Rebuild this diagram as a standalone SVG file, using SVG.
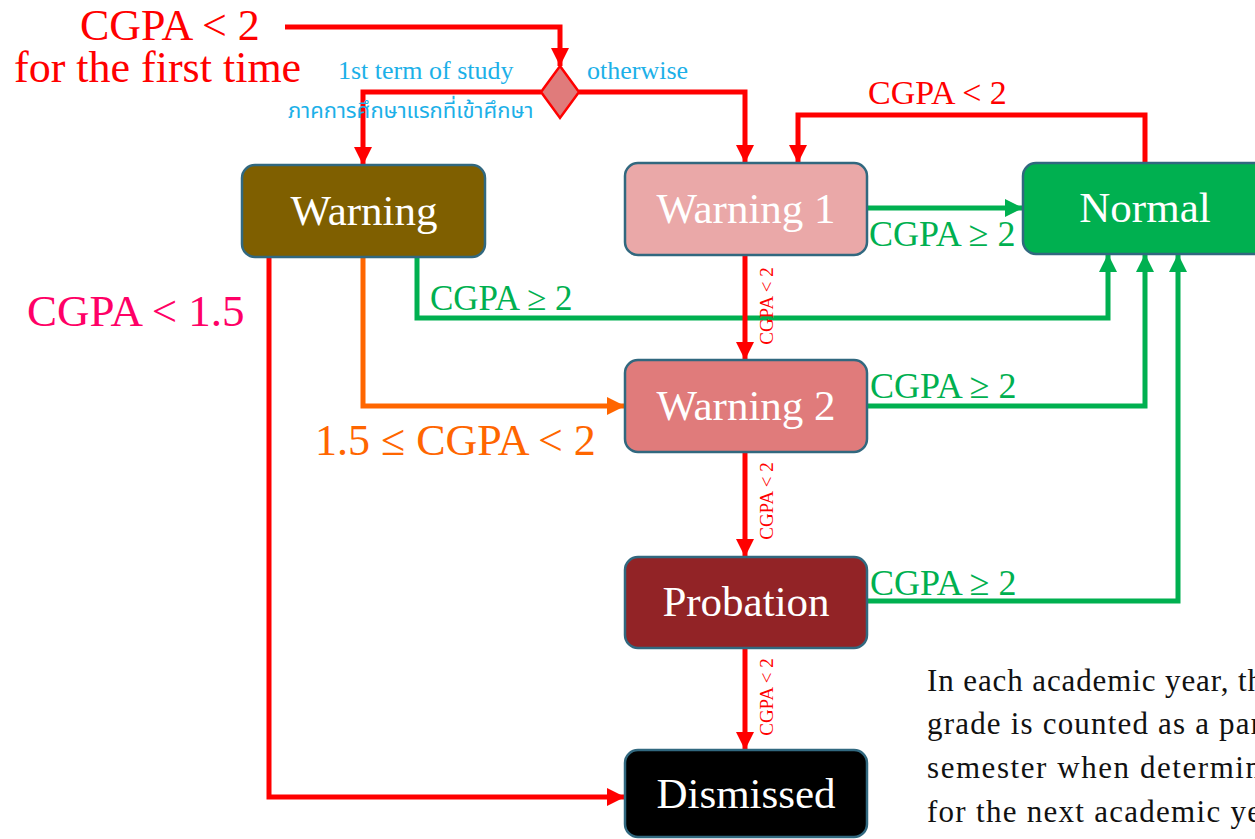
<svg xmlns="http://www.w3.org/2000/svg" width="1255" height="839" viewBox="0 0 1255 839">
<style>
.node{stroke:#31687f;stroke-width:2.5}
.nt{font-family:"Liberation Serif",serif;font-size:43px;fill:#ffffff;text-anchor:middle}
.ln{fill:none;stroke-width:5;stroke-linejoin:miter}
.r{stroke:#ff0000}
.g{stroke:#00b050}
.o{stroke:#ff6600}
.lbl{font-family:"Liberation Serif",serif}
.vl{font-family:"Liberation Serif",serif;font-size:19px;fill:#ff0000;text-anchor:middle}
</style>
<defs>
<marker id="ar" markerUnits="userSpaceOnUse" markerWidth="20" markerHeight="20" viewBox="0 0 20 20" refX="18" refY="10" orient="auto"><path d="M0,1 L18,10 L0,19 Z" fill="#ff0000"/></marker>
<marker id="ag" markerUnits="userSpaceOnUse" markerWidth="20" markerHeight="20" viewBox="0 0 20 20" refX="18" refY="10" orient="auto"><path d="M0,1 L18,10 L0,19 Z" fill="#00b050"/></marker>
<marker id="ao" markerUnits="userSpaceOnUse" markerWidth="20" markerHeight="20" viewBox="0 0 20 20" refX="18" refY="10" orient="auto"><path d="M0,1 L18,10 L0,19 Z" fill="#ff6600"/></marker>
</defs>

<g id="connectors">
<path class="ln r" d="M285,27 H560 V66" marker-end="url(#ar)"/>
<path class="ln r" d="M541,92 H363 V165" marker-end="url(#ar)"/>
<path class="ln r" d="M579,92 H745 V163" marker-end="url(#ar)"/>
<path class="ln r" d="M1145,163 V115 H798 V163" marker-end="url(#ar)"/>
<path class="ln g" d="M867,208 H1023" marker-end="url(#ag)"/>
<path class="ln r" d="M269,257 V797 H625" marker-end="url(#ar)"/>
<path class="ln o" d="M363,257 V406 H625" marker-end="url(#ao)"/>
<path class="ln g" d="M417,257 V318 H1108 V254" marker-end="url(#ag)"/>
<path class="ln r" d="M745,255 V360" marker-end="url(#ar)"/>
<path class="ln g" d="M867,406 H1145 V254" marker-end="url(#ag)"/>
<path class="ln r" d="M745,452 V557" marker-end="url(#ar)"/>
<path class="ln g" d="M867,601 H1178 V254" marker-end="url(#ag)"/>
<path class="ln r" d="M745,648 V750" marker-end="url(#ar)"/>
</g>

<g id="labels">
<text class="lbl" x="80" y="40" font-size="44" fill="#ff0000">CGPA &lt; 2</text>
<text class="lbl" x="14" y="82" font-size="44" fill="#ff0000">for the first time</text>
<text class="lbl" x="338" y="79" font-size="26" fill="#1cb0e8">1st term of study</text>
<text x="288" y="118" font-size="22" fill="#1cb0e8" font-family="'Noto Sans Thai','Noto Sans','DejaVu Sans',sans-serif">ภาคการศึกษาแรกที่เข้าศึกษา</text>
<text class="lbl" x="587" y="79" font-size="26" fill="#1cb0e8">otherwise</text>
<text class="lbl" x="868" y="104" font-size="34" fill="#ff0000">CGPA &lt; 2</text>
<text class="lbl" x="869" y="246" font-size="36" fill="#00b050">CGPA ≥ 2</text>
<text class="lbl" x="27" y="326" font-size="45" fill="#ff0066">CGPA &lt; 1.5</text>
<text class="lbl" x="430" y="310" font-size="35" fill="#00b050">CGPA ≥ 2</text>
<text class="lbl" x="315" y="455" font-size="44" fill="#ff6600">1.5 ≤ CGPA &lt; 2</text>
<text class="lbl" x="870" y="398" font-size="36" fill="#00b050">CGPA ≥ 2</text>
<text class="lbl" x="870" y="595" font-size="36" fill="#00b050">CGPA ≥ 2</text>
<text class="vl" transform="translate(773,306) rotate(-90)">CGPA &lt; 2</text>
<text class="vl" transform="translate(773,501) rotate(-90)">CGPA &lt; 2</text>
<text class="vl" transform="translate(773,697) rotate(-90)">CGPA &lt; 2</text>
</g>

<g id="decision">
<polygon points="560,66 579,92 560,118 541,92" fill="#e07b7b" stroke="#ff0000" stroke-width="2.5"/>
</g>

<g id="warning">
<rect class="node" x="242" y="165" width="243" height="92" rx="13" fill="#7f5f00"/>
<text class="nt" x="364" y="225">Warning</text>
</g>
<g id="warning1">
<rect class="node" x="625" y="163" width="242" height="92" rx="13" fill="#eaa8a8"/>
<text class="nt" x="746" y="223">Warning 1</text>
</g>
<g id="normal">
<rect class="node" x="1023" y="163" width="245" height="91" rx="13" fill="#00b050"/>
<text class="nt" x="1145" y="222">Normal</text>
</g>
<g id="warning2">
<rect class="node" x="625" y="360" width="242" height="92" rx="13" fill="#e07b7b"/>
<text class="nt" x="746" y="420">Warning 2</text>
</g>
<g id="probation">
<rect class="node" x="625" y="557" width="242" height="91" rx="13" fill="#922326"/>
<text class="nt" x="746" y="616">Probation</text>
</g>
<g id="dismissed">
<rect class="node" x="625" y="750" width="242" height="87" rx="13" fill="#000000"/>
<text class="nt" x="746" y="808">Dismissed</text>
</g>

<g id="note" font-family="'Liberation Serif',serif" font-size="31" fill="#111111">
<text x="927" y="691" textLength="336" lengthAdjust="spacing">In each academic year, th</text>
<text x="927" y="734" textLength="334" lengthAdjust="spacing">grade is counted as a par</text>
<text x="927" y="778" textLength="334" lengthAdjust="spacing">semester when determin</text>
<text x="927" y="822" textLength="334" lengthAdjust="spacing">for the next academic ye</text>
</g>
</svg>
